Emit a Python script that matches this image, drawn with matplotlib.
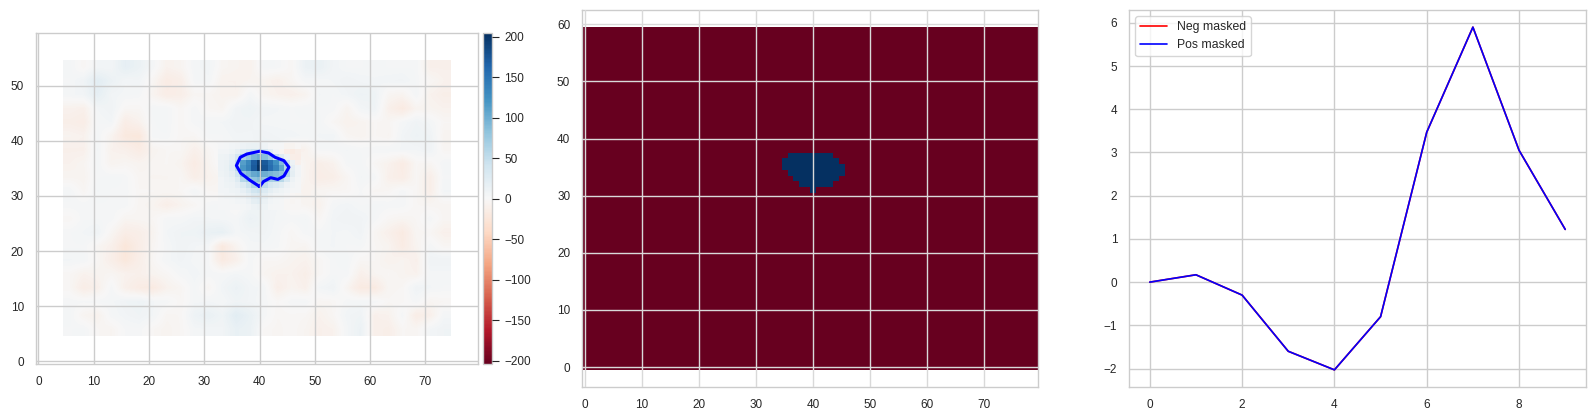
import matplotlib
matplotlib.use('Agg')
import matplotlib.pyplot as plt
import seaborn as sns
import numpy as np

# background of the left map, 2.5 unit cells, bottom row first
field_rows = [
    [3, 4, -3, -5, 2, 3, -3, -6, -3, 4, 5, 6, 15, 12, -2, -4, -2, -5, -10, -8, 4, 12, -10, -12, -3, -4, 5, 8],
    [4, -5, -8, 3, 6, 8, 5, -4, -3, 10, 14, 8, 22, 14, 3, -3, -2, -3, -8, -3, 6, 8, -10, -8, 3, -14, -10, 4],
    [3, 2, 3, 4, 8, 10, 5, 3, -3, 4, 5, 3, 8, 6, 3, -2, 3, 4, -4, -3, 3, 4, 3, -3, -2, 3, -5, -3],
    [-3, -14, -10, 3, -10, -16, -18, -8, -4, 4, -4, 6, 12, 6, 4, -12, -6, -10, 5, 8, -5, -18, -18, -4, -3, 8, 5, 3],
    [-3, -8, -6, -4, -8, -10, -6, -3, 3, 6, 3, 3, 5, 3, -5, -8, -8, -12, -3, 3, 3, -10, -5, -3, -6, -8, 4, 4],
    [5, 4, -3, -12, -22, -12, -3, 4, 7, 4, 2, -18, -10, 3, -3, -3, -6, -8, -3, 3, 4, -3, -3, -8, -6, -10, 8, 8],
    [3, 3, -4, -10, -24, -14, -4, 3, 8, 5, 3, -20, -6, 4, 4, 2, -4, -5, 4, 5, 3, 3, -3, -6, -16, -6, 3, -3],
    [3, 5, 8, -4, -14, -12, -6, 5, 8, 9, 14, 16, 4, 6, 7, 3, -3, 3, 3, 5, 4, 7, -4, -10, -18, -4, -3, -10],
    [-3, 3, 3, 3, -5, -4, -3, 3, 3, 6, 5, 4, 3, 12, 8, 4, 3, 5, -3, 6, 8, 7, 3, -3, -5, -3, 3, -4],
    [3, 3, 3, 3, 3, -4, -6, -12, -7, -3, 3, 4, -3, 6, 8, 5, -3, -5, -8, 4, 6, 3, 4, 3, 3, -3, -4, -4],
    [4, -4, 5, 3, 3, -3, -3, -4, -3, 5, -3, -4, -6, -3, 5, 4, -3, -8, -4, -3, -3, 2, -4, -3, 3, -3, -12, 5],
    [-5, -6, 3, 4, 3, -4, -5, -5, -3, -12, -8, -4, -3, 5, 6, 6, 4, -6, -14, -12, -4, 5, 3, -10, -14, -3, -12, 3],
    [-8, -5, 4, -6, -4, -6, -4, -3, -6, -16, -6, 3, 4, 5, 8, 12, 4, -6, -12, -8, 3, 4, -3, -8, -16, -3, -4, 4],
    [-10, -10, 5, -8, -10, -16, -6, -3, -3, -10, -4, 3, 3, 5, 9, 12, -12, -8, 3, 3, 5, 3, 3, 4, 5, 5, 8, -4],
    [-6, -8, 4, -6, -20, -22, 3, 3, -3, -3, 3, 3, 6, 6, 8, 6, 6, 4, 5, 6, -4, -6, -3, -5, 6, 10, 8, -6],
    [-12, -14, 3, 5, -14, -8, 3, 4, -3, 3, 4, 5, 8, 7, 4, 4, 3, 3, 4, -3, -8, -6, -3, -4, 3, 8, 4, -3],
    [-8, -10, 5, 8, -3, -3, 4, 4, -3, 3, -3, -5, 7, 10, 6, 5, 3, 4, 3, 3, -6, 5, 8, -10, -18, -6, -6, -8],
    [4, 6, 18, 6, 4, 3, -6, -14, -12, -4, -4, -7, -8, 4, -5, -8, -10, -6, 5, 3, 6, 10, 9, -4, -6, 4, -8, -12],
    [3, 8, 22, 12, 5, 6, -4, -16, -12, 3, 4, -8, -8, -6, -6, -10, -4, 3, 3, 5, 8, 6, 5, 6, 7, 3, -3, -8],
    [4, -3, 5, 5, 18, 12, 3, -8, -5, 4, 6, -4, -6, -8, 4, 3, -3, 12, 14, 6, 3, 3, 4, 3, 3, 3, -10, -10],
]

# fine part around the peak, x 33..47, y 28..39, bottom row first
peak_rows = [
    [2, 2, 3, 3, 4, 6, 10, 12, 8, 4, 3, 2, -3, -3, -2],
    [3, 3, 4, 5, 6, 10, 18, 22, 12, 6, 4, 3, -3, -4, -3],
    [4, 5, 6, 8, 10, 16, 26, 30, 18, 10, 6, 5, 3, -3, -4],
    [5, 6, 8, 10, 16, 26, 40, 44, 28, 18, 12, 8, 5, 3, 2],
    [5, 8, 10, 16, 28, 44, 62, 66, 50, 34, 28, 22, 10, 5, 3],
    [6, 10, 14, 26, 58, 70, 82, 88, 76, 66, 64, 56, 32, 10, 4],
    [8, 12, 18, 40, 80, 92, 104, 110, 100, 94, 88, 80, 56, 18, 6],
    [10, 14, 24, 54, 118, 136, 172, 200, 176, 156, 134, 106, 58, 16, 6],
    [10, 12, 22, 52, 112, 132, 168, 196, 172, 150, 124, 88, 42, 10, -8],
    [8, 10, 16, 34, 62, 78, 94, 100, 86, 70, 46, 24, 8, -12, -14],
    [5, 6, 8, 16, 28, 36, 42, 44, 32, 18, 6, -4, -14, -16, -12],
    [3, 4, 5, 7, 10, 12, 14, 12, 8, 4, 3, 2, -5, -6, -3],
]

# outline on the left map
contour_x = [40, 38.3, 36.6, 35.8, 36.5, 37.7, 40, 41.6, 42.8, 44.4, 45.3, 44.4, 43.3, 42, 40.7, 40]
contour_y = [31.7, 32.8, 34.1, 35.5, 37, 37.6, 38.1, 37.8, 37, 36.4, 35.2, 33.6, 33, 33.3, 32.6, 31.7]

# middle map: blue cells per row
mask_y = [37, 36, 35, 34, 33, 32, 31]
mask_from = [36, 35, 35, 36, 37, 38, 40]
mask_to = [43, 44, 45, 45, 44, 43, 40]

# right panel
pos_masked = [0, 0.17, -0.3, -1.6, -2.03, -0.8, 3.47, 5.9, 3.05, 1.22]
neg_masked = [0, 0.17, -0.3, -1.6, -2.03, -0.8, 3.47, 5.9, 3.05, 1.22]

sns.set_style('whitegrid')
plt.rcParams['font.family'] = ['Liberation Sans', 'DejaVu Sans']
plt.rcParams['font.size'] = 8.5
plt.rcParams['xtick.labelsize'] = 8.5
plt.rcParams['ytick.labelsize'] = 8.5
plt.rcParams['axes.axisbelow'] = False
plt.rcParams['grid.linewidth'] = 1.0
plt.rcParams['axes.linewidth'] = 1.0
plt.rcParams['xtick.major.pad'] = 5
plt.rcParams['ytick.major.pad'] = 5

W, H = 1595, 419


def px_axes(fig, x0, y0, x1, y1):
    return fig.add_axes([x0 / W, 1 - y1 / H, (x1 - x0) / W, (y1 - y0) / H])


fig = plt.figure(figsize=(W / 100, H / 100), dpi=100)
ax1 = px_axes(fig, 35.7, 33.3, 478, 364)
ax2 = px_axes(fig, 582, 10, 1038, 387)
ax3 = px_axes(fig, 1129, 10, 1586, 387)
cax = px_axes(fig, 483.3, 33.3, 491.7, 364)

# left map
im = ax1.imshow(np.array(field_rows, dtype=float), cmap='RdBu', vmin=-204, vmax=204, origin='lower',
                extent=(4.5, 74.5, 4.5, 54.5), aspect='auto', interpolation='bilinear')
ax1.imshow(np.array(peak_rows, dtype=float), cmap='RdBu', vmin=-204, vmax=204, origin='lower',
           extent=(32.5, 47.5, 27.5, 39.5), aspect='auto', interpolation='nearest')
ax1.plot(contour_x, contour_y, color='blue', linewidth=2.2)
ax1.set_xlim(-0.5, 79.5)
ax1.set_ylim(-0.5, 59.5)
ax1.set_xticks(range(0, 80, 10))
ax1.set_yticks(range(0, 60, 10))

cb = fig.colorbar(im, cax=cax)
cb.set_ticks(range(-200, 201, 50))
cb.ax.tick_params(length=4.7, width=0.8, color='.15', pad=4.3)
cb.ax.grid(False)
cb.outline.set_edgecolor('.8')

# middle map
mask = np.zeros((60, 80))
for y, a, b in zip(mask_y, mask_from, mask_to):
    mask[y, a:b + 1] = 1
ax2.imshow(mask, cmap='RdBu', vmin=0, vmax=1, origin='lower', aspect='auto', interpolation='nearest')
ax2.set_xlim(-0.5, 79.5)
ax2.set_ylim(-3.5, 62.5)
ax2.set_xticks(range(0, 80, 10))
ax2.set_yticks(range(0, 61, 10))
ax2.grid(color='.85')

# right panel
ax3.plot(neg_masked, color='red', linewidth=1.2, label='Neg masked')
ax3.plot(pos_masked, color='blue', linewidth=1.2, label='Pos masked')
ax3.set_axisbelow(True)
ax3.set_xticks(range(0, 10, 2))
ax3.legend(loc='upper left', fontsize=8.8, frameon=True, handlelength=2.2)

plt.savefig('out.png', dpi=100)
